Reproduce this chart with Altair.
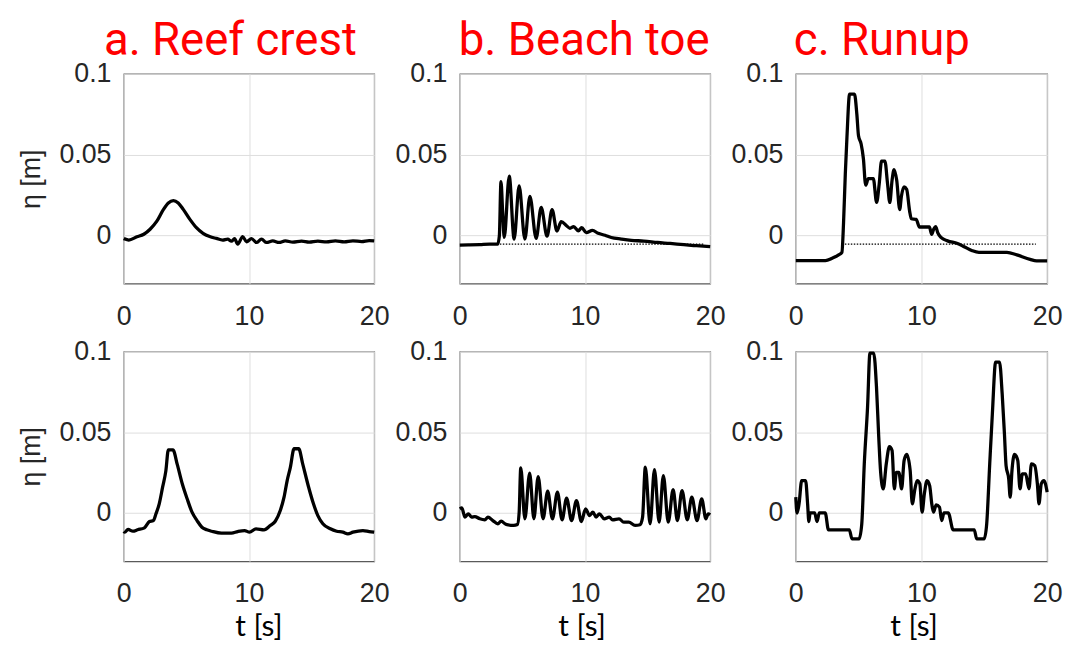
import altair as alt
import pandas as pd

# ---------------- data ----------------
# a. Reef crest, top row
a1_t = [0.0, 0.1, 0.4, 1.05, 1.6, 2.1, 2.64, 3.17, 3.56, 3.96, 4.35, 4.75, 5.28, 5.8, 6.33, 6.86,
        7.4, 7.9, 8.3, 8.6, 8.85, 9.1, 9.5, 9.8, 10.2, 10.6, 11.0, 11.4, 11.9, 12.4, 12.9, 13.5,
        14.2, 14.8, 15.5, 16.2, 16.9, 17.6, 18.3, 19.0, 19.6, 20.0]
a1_eta = [-0.002, -0.0024, -0.003, -0.001, 0.0006, 0.0037, 0.0087, 0.016, 0.020, 0.0215, 0.020,
          0.016, 0.0098, 0.0047, 0.0012, -0.0008, -0.002, -0.003, -0.0024, -0.0037, -0.0021,
          -0.0055, -0.0008, -0.0041, -0.0021, -0.0045, -0.0024, -0.0045, -0.0035, -0.0045,
          -0.0035, -0.0043, -0.0037, -0.0043, -0.0037, -0.0041, -0.0035, -0.0041, -0.0035,
          -0.0039, -0.0033, -0.0035]

# a. Reef crest, bottom row
a2_t = [0.0, 0.08, 0.34, 0.73, 1.1, 1.65, 2.05, 2.36, 2.57, 2.83, 3.1, 3.36, 3.56, 3.93, 4.27,
        4.67, 5.06, 5.45, 5.85, 6.24, 6.63, 7.02, 7.8, 8.6, 9.1, 9.65, 10.04, 10.56, 11.2, 11.7,
        12.1, 12.5, 12.8, 13.05, 13.3, 13.6, 13.97, 14.3, 14.76, 15.15, 15.5, 15.9, 16.5, 17.0,
        17.5, 17.9, 18.3, 19.1, 19.6, 20.0]
a2_eta = [-0.0115, -0.012, -0.0103, -0.0114, -0.0105, -0.0093, -0.0054, -0.0048, -0.0006, 0.0056,
          0.0159, 0.026, 0.039, 0.039, 0.030, 0.018, 0.0087, 0.0004, -0.0048, -0.0089, -0.0105,
          -0.0114, -0.0126, -0.0126, -0.0116, -0.011, -0.012, -0.0099, -0.0105, -0.0079, -0.0052,
          0.0014, 0.0097, 0.020, 0.028, 0.0397, 0.0397, 0.030, 0.016, 0.0056, -0.0017, -0.0068,
          -0.0099, -0.0114, -0.012, -0.013, -0.012, -0.011, -0.0116, -0.012]

# b. Beach toe, top row
b1_t = [0.0, 0.8, 1.6, 2.37, 3.03, 3.16, 3.29, 3.42, 3.55, 3.95, 4.34, 4.74, 5.2, 5.6, 6.1, 6.5,
        6.97, 7.37, 7.76, 8.1, 8.55, 8.8, 9.1, 9.47, 9.74, 10.1, 10.6, 11.05, 11.6, 12.1, 12.9,
        13.7, 14.7, 15.8, 16.8, 17.9, 18.9, 20.0]
b1_eta = [-0.0061, -0.006, -0.0058, -0.0055, -0.0055, -0.0005, 0.0332, 0.015, -0.0014, 0.0366,
          -0.0024, 0.0305, -0.0024, 0.024, -0.002, 0.0173, -0.0006, 0.0159, 0.0026, 0.0084,
          0.0057, 0.0043, 0.0053, 0.0027, 0.0047, 0.0016, 0.0030, 0.0012, 0.0, -0.0014, -0.0024,
          -0.0032, -0.0036, -0.0045, -0.0051, -0.0059, -0.0065, -0.0071]

# b. Beach toe, bottom row
b2_t = [0.0, 0.16, 0.42, 0.68, 0.94, 1.2, 1.6, 2.0, 2.25, 2.64, 3.04, 3.3, 3.7, 4.3, 4.6, 4.74,
        4.87, 5.2, 5.58, 5.92, 6.26, 6.65, 7.02, 7.4, 7.8, 8.17, 8.53, 8.93, 9.32, 9.71, 10.05,
        10.36, 10.63, 10.89, 11.15, 11.54, 11.94, 12.2, 12.72, 13.1, 13.5, 14.0, 14.4, 14.6,
        14.82, 15.2, 15.55, 15.92, 16.26, 16.65, 17.04, 17.38, 17.75, 18.17, 18.53, 18.95,
        19.32, 19.66, 19.84, 20.0]
b2_eta = [0.0025, 0.003, -0.0027, -0.0006, -0.0027, -0.0023, -0.0037, -0.0043, -0.0027, -0.0048,
          -0.0068, -0.0052, -0.0072, -0.0078, -0.0072, 0.0, 0.0279, -0.0037, 0.0246, -0.0037,
          0.0225, -0.0037, 0.0134, -0.0037, 0.0128, -0.0043, 0.0091, -0.0048, 0.0076, -0.0054,
          0.0025, -0.0017, 0.0004, -0.0027, -0.0006, -0.0037, -0.0027, -0.0043, -0.0037,
          -0.0058, -0.0058, -0.0078, -0.0074, -0.0027, 0.0283, -0.0068, 0.0267, -0.0058, 0.0231,
          -0.0058, 0.0143, -0.0048, 0.0138, -0.0043, 0.0097, -0.0048, 0.0087, -0.0037, -0.0006,
          -0.0012]

# c. Runup, top row
c1_t = [0.0, 1.2, 2.36, 2.9, 3.41, 3.67, 3.8, 3.94, 4.07, 4.28, 4.67, 4.86, 4.99, 5.2, 5.38,
        5.56, 5.77, 6.17, 6.43, 6.64, 6.82, 7.09, 7.3, 7.48, 7.66, 7.82, 8.03, 8.27, 8.4, 8.61,
        8.82, 9.06, 9.19, 9.58, 9.84, 10.63, 10.81, 10.97, 11.13, 11.29, 11.55, 12.07, 12.86,
        13.39, 14.04, 14.57, 15.75, 16.8, 17.59, 18.64, 19.16, 20.0]
c1_eta = [-0.0157, -0.0157, -0.0157, -0.0142, -0.0122, -0.0106, 0.0077, 0.038, 0.0606, 0.0874,
          0.0874, 0.0748, 0.0616, 0.0565, 0.0474, 0.031, 0.035, 0.035, 0.0203, 0.032, 0.0459,
          0.0459, 0.032, 0.0203, 0.034, 0.0407, 0.034, 0.0159, 0.024, 0.030, 0.0285, 0.0148,
          0.0102, 0.0098, 0.0051, 0.0051, 0.0006, 0.0037, 0.0053, 0.0016, -0.0014, -0.0035,
          -0.0051, -0.0071, -0.0096, -0.0106, -0.0106, -0.0106, -0.0122, -0.015, -0.0159,
          -0.0159]

# c. Runup, bottom row
c2_t = [0.0, 0.1, 0.26, 0.47, 0.78, 0.94, 1.04, 1.14, 1.5, 1.69, 1.87, 2.34, 2.6, 4.26, 4.47,
        5.04, 5.25, 5.45, 5.71, 5.9, 6.2, 6.42, 6.6, 6.75, 6.96, 7.2, 7.45, 7.66, 7.84, 8.0,
        8.2, 8.42, 8.62, 8.83, 9.1, 9.27, 9.48, 9.66, 9.87, 10.05, 10.23, 10.44, 10.65, 10.83,
        10.96, 11.17, 11.43, 11.61, 11.79, 12.13, 12.52, 14.2, 14.39, 14.99, 15.19, 15.43,
        15.64, 15.9, 16.21, 16.42, 16.6, 16.73, 16.94, 17.06, 17.2, 17.4, 17.66, 17.84, 18.03,
        18.29, 18.55, 18.75, 19.01, 19.22, 19.35, 19.53, 19.74, 20.0]
c2_eta = [0.0097, -0.0002, 0.0056, 0.020, 0.020, 0.0056, -0.0054, 0.0, 0.0, -0.0054, 0.0, 0.0,
          -0.0105, -0.0105, -0.0161, -0.0161, -0.0068, 0.0304, 0.0655, 0.099, 0.099, 0.078,
          0.047, 0.0252, 0.0149, 0.0304, 0.041, 0.0386, 0.0149, 0.025, 0.025, 0.0149, 0.0325,
          0.0362, 0.0262, 0.0056, 0.0149, 0.020, 0.0180, 0.0004, 0.0118, 0.020, 0.0169, 0.005,
          0.0004, 0.005, 0.0035, -0.0048, 0.0, 0.0, -0.0105, -0.0105, -0.0161, -0.0161, -0.0068,
          0.0304, 0.0614, 0.0934, 0.0934, 0.0738, 0.049, 0.0293, 0.0211, 0.0097, 0.0262, 0.0362,
          0.0325, 0.0149, 0.0242, 0.0242, 0.0149, 0.0304, 0.0293, 0.018, 0.0056, 0.018, 0.020,
          0.0128]

# dotted still-water reference lines (top row, b and c)
b1_ref = [3.2, 19.5, -0.0055]
c1_ref = [3.67, 19.1, -0.0055]

titles = ["a. Reef crest", "b. Beach toe", "c. Runup"]
title_dx = [-20, -1, -2]
xtitle_x = [136, 123, 119]
widths = [253, 253, 254]

TICK_FONT = "Liberation Sans"
H = 212


def panel(t, eta, col, row, ref=None):
    df = pd.DataFrame({"t": t, "eta": eta})
    xaxis_kw = dict(values=[0, 10, 20], labelFontSize=27, labelPadding=20, ticks=False,
                    domain=False, labelFont=TICK_FONT, labelColor="#262626",
                    gridColor="#dedede", labelFlush=False)
    if row == 1:
        xaxis = alt.Axis(title="t [s]", titleFont="Lato", titleFontSize=30,
                         titleFontWeight="normal", titleColor="#000000",
                         titleX=xtitle_x[col], titleY=75,
                         titleBaseline="alphabetic", **xaxis_kw)
    else:
        xaxis = alt.Axis(title=None, **xaxis_kw)
    yaxis_kw = dict(values=[0, 0.05, 0.1], format="~g", labelFontSize=27, labelPadding=13,
                    ticks=False, domain=False, labelFont=TICK_FONT, labelColor="#262626",
                    gridColor="#dedede", labelFlush=False, labelBaseline="middle")
    if col == 0:
        yaxis = alt.Axis(title="η [m]", titleFont=TICK_FONT, titleFontSize=27,
                         titleFontWeight="normal", titleColor="#262626", titlePadding=14,
                         **yaxis_kw)
    else:
        yaxis = alt.Axis(title=None, **yaxis_kw)

    line = alt.Chart(df).mark_line(color="black", strokeWidth=3.3, interpolate="monotone").encode(
        x=alt.X("t:Q", scale=alt.Scale(domain=[0, 20], nice=False, zero=False), axis=xaxis),
        y=alt.Y("eta:Q", scale=alt.Scale(domain=[-0.03, 0.1], nice=False, zero=False), axis=yaxis),
    )
    layers = [line]
    if ref is not None:
        rdf = pd.DataFrame({"t0": [ref[0]], "t1": [ref[1]], "eta": [ref[2]]})
        rule = alt.Chart(rdf).mark_rule(color="black", strokeWidth=1.2, strokeDash=[1.5, 1.5]).encode(
            x="t0:Q", x2="t1:Q", y="eta:Q")
        layers.append(rule)
    ch = alt.layer(*layers)
    props = dict(width=widths[col], height=H)
    if row == 0:
        props["title"] = alt.TitleParams(text=titles[col], anchor="start", dx=title_dx[col],
                                         font="Roboto", fontSize=46, fontWeight="normal",
                                         color="#ff0000", offset=-4.7, frame="group")
    return ch.properties(**props)


top = alt.hconcat(panel(a1_t, a1_eta, 0, 0), panel(b1_t, b1_eta, 1, 0, b1_ref),
                  panel(c1_t, c1_eta, 2, 0, c1_ref), spacing=3.5)
bottom = alt.hconcat(panel(a2_t, a2_eta, 0, 1), panel(b2_t, b2_eta, 1, 1),
                     panel(c2_t, c2_eta, 2, 1), spacing=3.5)

chart = alt.vconcat(top, bottom, spacing=6.5).properties(
    padding={"left": 8, "top": 6.2, "right": 0, "bottom": -1},
    background="white",
).configure_view(stroke="#5a5a5a", strokeWidth=1.2).configure_axis(grid=True)

chart.save("out.html", embed_options={"renderer": "svg", "actions": False})
